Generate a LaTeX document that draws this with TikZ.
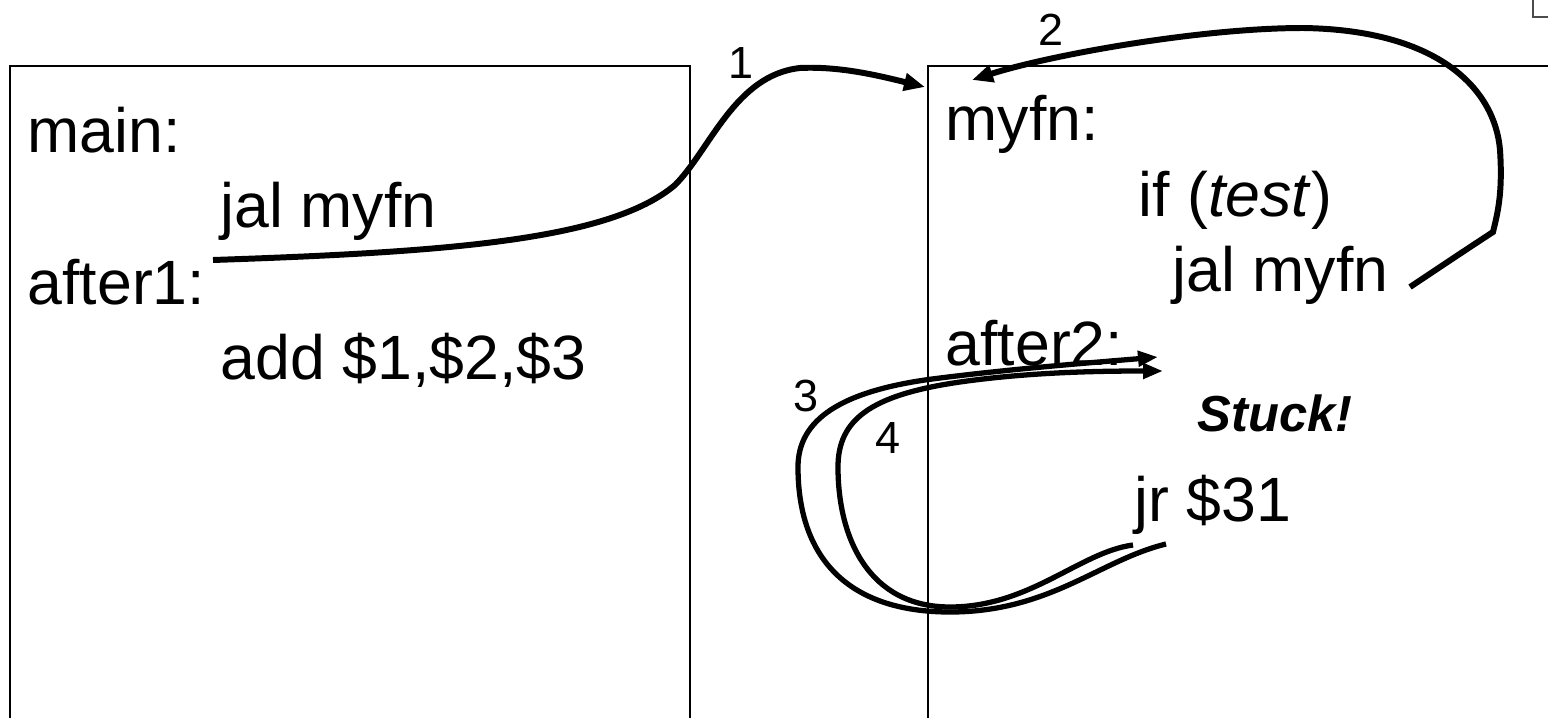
\documentclass[tikz,border=0pt]{standalone}
\usepackage{fontspec}
\setmainfont{Liberation Sans}
\usetikzlibrary{arrows.meta}
\begin{document}
\begin{tikzpicture}[x=0.01cm,y=-0.01cm,
  code/.style={anchor=base west,inner sep=0pt,font=\fontsize{17.8}{21}\selectfont},
  stuckstyle/.style={anchor=base west,inner sep=0pt,font=\fontsize{14.4}{17}\selectfont\bfseries\itshape},
  num/.style={inner sep=0pt,font=\fontsize{12.8}{15}\selectfont},
  frame/.style={line width=0.7pt},
  flow/.style={line width=1.7pt,-{Triangle[length=0.21cm,width=0.17cm]}},
  ret/.style={line width=1.5pt,-{Triangle[length=0.2cm,width=0.15cm]}}]
\useasboundingbox (0,0) rectangle (1548,718);
% frames
\draw[frame] (10,730) -- (10,66) -- (690,66) -- (690,730);
\draw[frame] (928,730) -- (928,66) -- (1560,66);
\draw[gray!60!black,line width=0.8pt] (1533,-5) -- (1533,17) -- (1560,17);
% left code
\node[code] (main) at (27,152) {main:};
\node[code] (jal1) at (220,227) {jal myfn};
\node[code] (after1) at (27,304) {after1:};
\node[code] (add) at (220,379) {add \$1,\$2,\$3};
% right code
\node[code] (myfn) at (945,140) {myfn:};
\node[code] (iftest) at (1138,216) {if (\textit{test})};
\node[code] (jal2) at (1172,291) {jal myfn};
\node[code] (after2) at (945,365) {after2:};
\node[stuckstyle] (stuck) at (1197,431) {Stuck!};
\node[code] (jr) at (1134,521) {jr \$31};
% numbers
\node[num] (n1) at (741,63) {1};
\node[num] (n2) at (1051,30) {2};
\node[num] (n3) at (806,396) {3};
\node[num] (n4) at (888,438) {4};
% arrow 1
\coordinate (s1) at (213,260);
\coordinate (t1) at (925,87);
\draw[flow] (s1) .. controls (450,252) and (610,240) .. (675,185)
  .. controls (710,150) and (735,75) .. (800,68)
  .. controls (840,66) and (880,76) .. (t1);
% arrow 2
\coordinate (s2) at (1410,287);
\coordinate (t2) at (972,80);
\draw[flow] (s2) .. controls (1440,267) and (1470,247) .. (1493,232)
  .. controls (1497,215) and (1503,195) .. (1500,150)
  .. controls (1495,90) and (1440,30) .. (1303,28)
  .. controls (1200,28) and (1050,55) .. (t2);
% arrow 3 (outer)
\coordinate (s3) at (1166,544);
\coordinate (t3) at (1158,357);
\draw[ret] (s3) .. controls (1100,560) and (1050,612) .. (950,612)
  .. controls (850,612) and (798,560) .. (798,467)
  .. controls (798,420) and (840,390) .. (940,378)
  .. controls (1020,368) and (1100,362) .. (t3);
% arrow 4 (inner)
\coordinate (s4) at (1133,545);
\coordinate (t4) at (1163,371);
\draw[ret] (s4) .. controls (1080,552) and (1030,607) .. (950,607)
  .. controls (870,607) and (838,540) .. (838,467)
  .. controls (838,420) and (870,395) .. (960,382)
  .. controls (1030,372) and (1100,371) .. (t4);
\end{tikzpicture}
\end{document}
